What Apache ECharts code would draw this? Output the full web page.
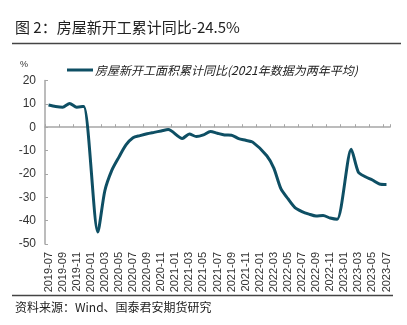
<!DOCTYPE html>
<html><head><meta charset="utf-8">
<script src="https://cdn.jsdelivr.net/npm/echarts@6/dist/echarts.min.js"></script>
<style>html,body{margin:0;padding:0;background:#fff}#c{width:407px;height:325px}</style>
</head><body><div id="c"></div>
<script>
const months = [
 '2019-07','2019-08','2019-09','2019-10','2019-11','2019-12',
 '2020-01','2020-02','2020-03','2020-04','2020-05','2020-06','2020-07','2020-08','2020-09','2020-10','2020-11','2020-12',
 '2021-01','2021-02','2021-03','2021-04','2021-05','2021-06','2021-07','2021-08','2021-09','2021-10','2021-11','2021-12',
 '2022-01','2022-02','2022-03','2022-04','2022-05','2022-06','2022-07','2022-08','2022-09','2022-10','2022-11','2022-12',
 '2023-01','2023-02','2023-03','2023-04','2023-05','2023-06','2023-07'
];
const startsYoY = [
 9.5, 8.9, 8.6, 10.2, 8.6, 8.9,
 null, -44.9, -27.2, -18.4, -12.8, -7.6, -4.5, -3.6, -2.8, -2.2, -1.6, -1.0,
 null, -4.8, -2.9, -4.0, -3.3, -1.8, -2.6, -3.3, -3.4, -4.9, -5.6, -6.4,
 null, -12.2, -17.5, -26.3, -30.6, -34.4, -36.1, -37.2, -38.0, -37.8, -38.9, -39.4,
 null, -9.4, -19.2, -21.2, -22.6, -24.3, -24.5
];
const seriesName = '房屋新开工面积累计同比(2021年数据为两年平均)';
const titleText = '图 2：房屋新开工累计同比-24.5%';
const sourceText = '资料来源：Wind、国泰君安期货研究';
const yMin = -50, yMax = 20, yStep = 10;

const chart = echarts.init(document.getElementById('c'));
chart.setOption({
  animation: false,
  textStyle: {fontFamily: 'Liberation Sans, Arial, sans-serif'},
  graphic: [
    {type:'text', left:15, top:20, style:{text:titleText, fontSize:15, fill:'#222', fontFamily:'Noto Sans CJK SC, sans-serif'}},
    {type:'line', shape:{x1:12,y1:43.5,x2:401,y2:43.5}, style:{stroke:'#444', lineWidth:1.5}},
    {type:'line', shape:{x1:12,y1:295.5,x2:393,y2:295.5}, style:{stroke:'#444', lineWidth:1.5}},
    {type:'text', left:15, top:301, style:{text:sourceText, fontSize:12, fill:'#222', fontFamily:'Noto Sans CJK SC, sans-serif'}},
    {type:'text', left:20, top:60, style:{text:'%', fontSize:9, fill:'#333'}}
  ],
  legend: {
    left: 62, top: 59, itemWidth: 26, itemHeight: 12, itemGap: 4,
    textStyle: {fontSize: 12, color:'#222', fontStyle:'italic', fontFamily:'Noto Sans CJK SC, sans-serif', padding:[0,0,0,-3]},
    data: [{name: seriesName, icon: 'path://M0,5 L26,5 L26,8 L0,8 Z'}]
  },
  grid: {left: 45, right: 17, top: 80.5, bottom: 81},
  xAxis: [
    {type:'category', data: months, position:'bottom', boundaryGap:true,
     axisLine:{show:false, onZero:false}, axisTick:{show:false},
     axisLabel:{rotate:90, interval:1, fontSize:11, color:'#333', margin:8}},
    {type:'category', data: months, position:'bottom', boundaryGap:true,
     axisLine:{show:true, onZero:true, lineStyle:{color:'#a6a6a6', width:1.5}},
     axisTick:{show:true, inside:true, interval:1, length:3, lineStyle:{color:'#a6a6a6'}},
     axisLabel:{show:false}}
  ],
  yAxis: {type:'value', min:yMin, max:yMax, interval:yStep,
    axisLine:{show:true, lineStyle:{color:'#a6a6a6', width:1.5}},
    axisTick:{show:true, inside:true, length:3, lineStyle:{color:'#a6a6a6'}},
    axisLabel:{fontSize:12, color:'#333', margin:9},
    splitLine:{show:false}},
  series: [{
    name: seriesName, type:'line', data: startsYoY, xAxisIndex:0,
    connectNulls:true, smooth:0.25, showSymbol:false, symbol:'none',
    lineStyle:{color:'#0e4f64', width:3}, itemStyle:{color:'#0e4f64'}
  }]
});
</script></body></html>
